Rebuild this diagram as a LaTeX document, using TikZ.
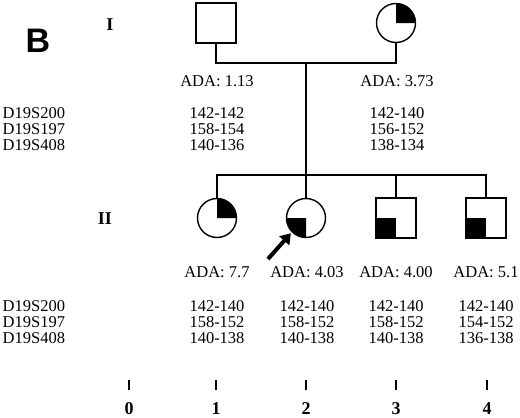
\documentclass[tikz,border=0pt]{standalone}
\usepackage{fontspec}
\setmainfont{Liberation Serif}
\setsansfont{Liberation Sans}
\usetikzlibrary{arrows.meta}

\begin{document}
\begin{tikzpicture}
	[x=1pt, y=-1pt, line width=1.4pt,
	 male/.style={rectangle, draw, minimum size=40pt, inner sep=0pt, outer sep=0pt},
	 female/.style={circle, draw, minimum size=39pt, inner sep=0pt, outer sep=0pt},
	 txt/.style={font=\fontsize{16.5}{16}\selectfont, inner sep=0pt, align=center},
	 gen/.style={font=\fontsize{18}{18}\selectfont\bfseries, inner sep=0pt},
	 tick/.style={line width=2.4pt}]
	\useasboundingbox (0,0) rectangle (520,418);

	\node[font=\fontsize{34}{34}\selectfont\sffamily\bfseries, inner sep=0pt] (panel) at (38,41) {B};
	\node[gen] (genI) at (110,25) {I};
	\node[gen] (genII) at (105,219) {II};

	% generation I
	\node[male] (f) at (216,23) {};
	\node[female] (m) at (396,23) {};
	\fill (m.center) -- (m.north) arc[start angle=90, end angle=0, radius=19.5pt] -- cycle;
	\coordinate (mate) at (306,63);
	\coordinate (sib) at (306,175);
	\draw (f.south) |- (mate) -| (m.south);
	\draw (mate) -- (sib);

	\node[txt] (adaf) at (217,81) {ADA: 1.13};
	\node[txt] (adam) at (397,81) {ADA: 3.73};
	\node[txt, anchor=west, align=left] (mkI) at (2,129) {D19S200\\D19S197\\D19S408};
	\node[txt] (hf) at (217,129) {142-142\\158-154\\140-136};
	\node[txt] (hm) at (397,129) {142-140\\156-152\\138-134};

	% generation II
	\node[female] (c1) at (217,218) {};
	\node[female] (c2) at (306,218) {};
	\node[male] (c3) at (396,218) {};
	\node[male] (c4) at (486,218) {};
	\fill (c1.center) -- (c1.north) arc[start angle=90, end angle=0, radius=19.5pt] -- cycle;
	\fill (c2.center) -- (c2.west) arc[start angle=180, end angle=270, radius=19.5pt] -- cycle;
	\fill (c3.west) rectangle (c3.south);
	\fill (c4.west) rectangle (c4.south);
	\draw (c1.north) |- (c4.north |- sib) -- (c4.north);
	\draw (c2.north) -- (sib);
	\draw (c3.north) -- (c3.north |- sib);

	\coordinate (arr) at (268,259);
	\draw[line width=4pt, -{Triangle[length=10pt, width=13pt]}, shorten >=2pt] (arr) -- (c2.south west);

	\node[txt] (ada1) at (217,272) {ADA: 7.7};
	\node[txt] (ada2) at (307,272) {ADA: 4.03};
	\node[txt] (ada3) at (396,272) {ADA: 4.00};
	\node[txt] (ada4) at (486,272) {ADA: 5.1};
	\node[txt, anchor=west, align=left] (mkII) at (2,322) {D19S200\\D19S197\\D19S408};
	\node[txt] (h1) at (217,322) {142-140\\158-152\\140-138};
	\node[txt] (h2) at (307,322) {142-140\\158-152\\140-138};
	\node[txt] (h3) at (396,322) {142-140\\158-152\\140-138};
	\node[txt] (h4) at (486,322) {142-140\\154-152\\136-138};

	% individual numbers
	\foreach \x/\n in {129/0, 216/1, 306/2, 396/3, 487/4} {
		\node[gen] (n\n) at (\x,409) {\n};
		\draw[tick] (\x,380) -- (\x,390);
	}
\end{tikzpicture}
\end{document}
